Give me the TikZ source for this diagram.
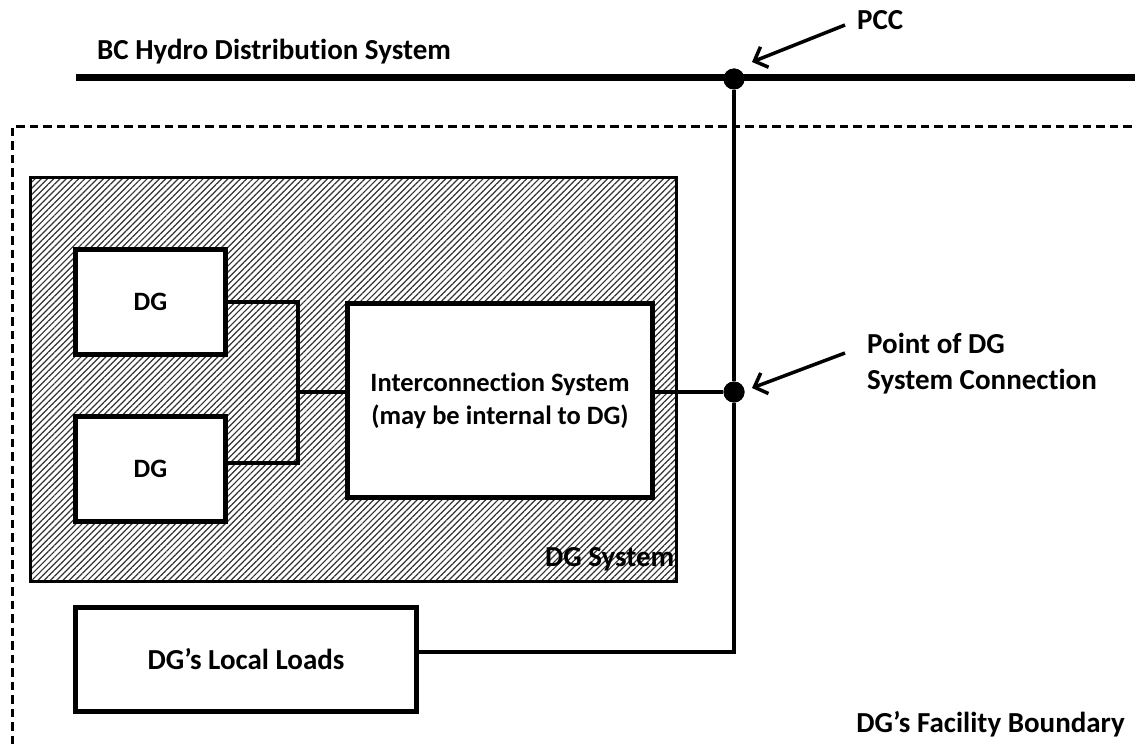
\documentclass[tikz,border=0pt]{standalone}
\usepackage{fontspec}
\setmainfont{Carlito}[Ligatures=NoCommon]
\usepackage{tikz}
\usetikzlibrary{arrows.meta}
\usetikzlibrary{patterns.meta}
\usetikzlibrary{positioning}

\begin{document}
\begin{tikzpicture}[x=1pt,y=-1pt]
      \tikzset{
         unitbox/.style = {
            rectangle, draw, fill=white,
            line width=5pt, outer sep=0pt, inner sep=0pt,
            align=center,
            font=\fontsize{26.5}{33}\selectfont\bfseries
         },
         hatchbox/.style = {
            rectangle, draw, line width=3pt,
            outer sep=0pt, inner sep=0pt,
            pattern={Lines[angle=45,distance=4.4pt,line width=1.2pt]},
            pattern color=black!80
         },
         tagtext/.style = {
            inner sep=0pt, align=left,
            font=\fontsize{29}{36}\selectfont\bfseries
         },
         wire/.style = {line width=4pt},
         busline/.style = {line width=7pt},
         boundary/.style = {line width=3pt, dash pattern=on 8.5pt off 5pt},
         tapdot/.style = {circle, fill, inner sep=0pt, minimum size=21pt},
         pointer/.style = {line width=3.5pt, -{Straight Barb[length=11pt,width=22pt]}}
      }
      \useasboundingbox (0,0) rectangle (1135,749);
      % facility boundary and utility bus
      \draw[boundary] (1145,127) -| (12,760);
      \draw[busline] (76,78) -- (1145,78);
      \node[tagtext, anchor=base west] (busname) at (97,60) {BC Hydro Distribution System};
      \node[tapdot] (pcc) at (734,79) {};
      \node[tapdot] (poc) at (734,392) {};
      % DG system area
      \node[hatchbox, minimum width=646pt, minimum height=404pt] (dgsys) at (353.5,379.5) {};
      \node[tagtext, anchor=base east] (dgsysname) at ([xshift=-2pt,yshift=15pt]dgsys.south east) {DG System};
      \node[unitbox, minimum width=150pt, minimum height=105pt] (dgA) at (150.5,302) {DG};
      \node[unitbox, minimum width=150pt, minimum height=105pt, below=62pt of dgA] (dgB) {DG};
      \node[unitbox, minimum width=305pt, minimum height=194pt] (ic) at (500,400.5) {Interconnection System\\(may be internal to DG)};
      \node[unitbox, minimum width=341pt, minimum height=104pt,
            font=\fontsize{29}{35}\selectfont\bfseries] (loads) at (246,659.5) {DG’s Local Loads};
      \coordinate (junction) at (298,392);
      \draw[wire] (dgA.east) -| (junction) |- ([yshift=6.5pt]dgB.east);
      \draw[wire] (junction) -- (ic.west |- junction);
      \draw[wire] (ic.east |- poc) -- (poc);
      \draw[line width=4.5pt] (pcc) -- (poc);
      \draw[line width=4.5pt] ([yshift=7.5pt]loads.east) -| (poc);
      \node[tapdot] at (pcc) {};
      \node[tapdot] at (poc) {};
      % callouts
      \node[tagtext, anchor=base west] (pcctext) at (857,30) {PCC};
      \coordinate (pccTail) at (845,25);
      \coordinate (pccTip) at (752,62);
      \draw[pointer] (pccTail) -- (pccTip);
      \node[tagtext, anchor=base west] (poctext) at (867,389) {Point of DG\\System Connection};
      \coordinate (pocTail) at (845,353);
      \coordinate (pocTip) at (752,388);
      \draw[pointer] (pocTail) -- (pocTip);
      \node[tagtext, anchor=base east] (boundtext) at (1125,732) {DG’s Facility Boundary};
    \end{tikzpicture}
\end{document}
